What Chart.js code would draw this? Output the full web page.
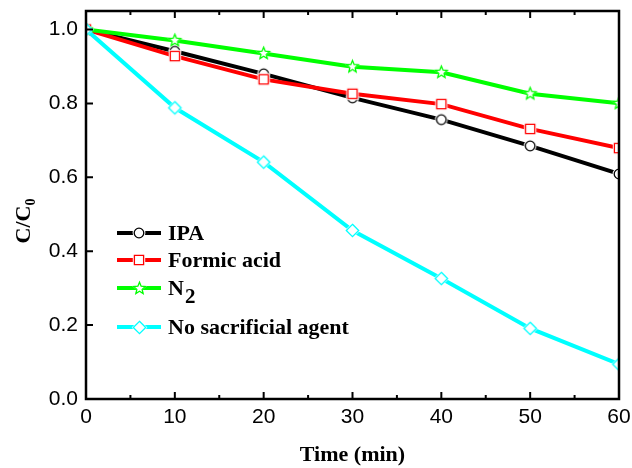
<!DOCTYPE html>
<html>
<head>
<meta charset="utf-8">
<script src="https://cdn.jsdelivr.net/npm/chart.js@4/dist/chart.umd.min.js"></script>
<style>
  html, body { margin: 0; padding: 0; background: #fff; }
  #wrap { width: 632px; height: 468px; }
</style>
</head>
<body>
<div id="wrap"><canvas id="c" width="632" height="468"></canvas></div>
<script>
// Degradation over time under different scavenger conditions
const time = [0, 10, 20, 30, 40, 50, 60];
const ipa = [1.0, 0.941, 0.880, 0.815, 0.756, 0.685, 0.609];
const formicAcid = [1.0, 0.928, 0.865, 0.826, 0.798, 0.731, 0.679];
const nitrogen = [1.0, 0.970, 0.935, 0.899, 0.884, 0.826, 0.800];
const noAgent = [1.0, 0.788, 0.641, 0.456, 0.326, 0.191, 0.094];

const seriesNames = ['IPA', 'Formic acid', 'N2', 'No sacrificial agent'];
const seriesColors = ['#000000', '#ff0000', '#00ff00', '#00ffff'];

// Hollow marker images with a thin white halo so the line breaks around them
function shapePath(g, shape, cx, cy, r) {
  g.beginPath();
  if (shape === 'circle') {
    g.arc(cx, cy, r, 0, Math.PI * 2);
  } else if (shape === 'square') {
    g.rect(cx - r, cy - r, 2 * r, 2 * r);
  } else if (shape === 'diamond') {
    g.moveTo(cx, cy - r); g.lineTo(cx + r, cy); g.lineTo(cx, cy + r); g.lineTo(cx - r, cy);
    g.closePath();
  } else if (shape === 'star') {
    const inner = r * 0.45;
    for (let i = 0; i < 10; i++) {
      const a = -Math.PI / 2 + i * Math.PI / 5;
      const rr = i % 2 === 0 ? r : inner;
      const px = cx + rr * Math.cos(a), py = cy + rr * Math.sin(a);
      if (i === 0) g.moveTo(px, py); else g.lineTo(px, py);
    }
    g.closePath();
  }
}
function makeMarker(shape, color, r) {
  const s = Math.ceil(2 * (r + 3));
  const c = document.createElement('canvas');
  c.width = s; c.height = s;
  const g = c.getContext('2d');
  const m = s / 2;
  shapePath(g, shape, m, m, r + 1.6);
  g.fillStyle = '#ffffff'; g.fill();
  shapePath(g, shape, m, m, r);
  g.fillStyle = '#ffffff'; g.fill();
  g.lineWidth = 1.3; g.strokeStyle = color; g.stroke();
  return c;
}
const markers = [
  makeMarker('circle', seriesColors[0], 4.8),
  makeMarker('square', seriesColors[1], 4.6),
  makeMarker('star', seriesColors[2], 6.2),
  makeMarker('diamond', seriesColors[3], 6.2)
];

const seriesValues = [ipa, formicAcid, nitrogen, noAgent];
const datasets = seriesValues.map((vals, i) => ({
  label: seriesNames[i],
  data: time.map((t, k) => ({ x: t, y: vals[k] })),
  borderColor: seriesColors[i],
  backgroundColor: seriesColors[i],
  borderWidth: 4,
  pointStyle: markers[i],
  pointRadius: 6,
  tension: 0,
  clip: 0,
  order: 3 - i
}));

const serif = '"Liberation Serif", "Times New Roman", serif';

// Frame, inward ticks, axis titles and legend
const decor = {
  id: 'decor',
  afterDatasetsDraw(chart) {
    const ctx = chart.ctx;
    const a = chart.chartArea;
    const xs = chart.scales.x, ys = chart.scales.y;
    ctx.save();
    ctx.strokeStyle = '#000';
    ctx.lineWidth = 2.5;
    ctx.strokeRect(a.left, a.top, a.right - a.left, a.bottom - a.top);

    ctx.lineWidth = 2;
    const xt = xs.ticks.map(t => t.value);
    ctx.beginPath();
    xt.forEach((v, k) => {
      const px = xs.getPixelForValue(v);
      ctx.moveTo(px, a.bottom); ctx.lineTo(px, a.bottom - 7);
      ctx.moveTo(px, a.top); ctx.lineTo(px, a.top + 7);
      if (k < xt.length - 1) {
        const pm = xs.getPixelForValue((v + xt[k + 1]) / 2);
        ctx.moveTo(pm, a.bottom); ctx.lineTo(pm, a.bottom - 4);
        ctx.moveTo(pm, a.top); ctx.lineTo(pm, a.top + 4);
      }
    });
    ys.ticks.forEach(t => {
      const py = ys.getPixelForValue(t.value);
      ctx.moveTo(a.left, py); ctx.lineTo(a.left + 7, py);
    });
    ctx.stroke();

    ctx.fillStyle = '#000';
    // x title
    ctx.font = 'bold 22px ' + serif;
    ctx.textAlign = 'center';
    ctx.textBaseline = 'middle';
    ctx.fillText('Time (min)', (a.left + a.right) / 2, 455);

    // y title with subscript
    ctx.save();
    ctx.translate(30, 221);
    ctx.rotate(-Math.PI / 2);
    ctx.textAlign = 'left';
    ctx.textBaseline = 'alphabetic';
    ctx.font = 'bold 22px ' + serif;
    const main = 'C/C';
    const w1 = ctx.measureText(main).width;
    ctx.font = 'bold 14px ' + serif;
    const w2 = ctx.measureText('0').width;
    const x0 = -(w1 + w2) / 2;
    ctx.font = 'bold 22px ' + serif;
    ctx.fillText(main, x0, 0);
    ctx.font = 'bold 14px ' + serif;
    ctx.fillText('0', x0 + w1, 5);
    ctx.restore();

    // legend
    const rows = [233, 260, 288, 327];
    chart.data.datasets.forEach((ds, i) => {
      const y = rows[i];
      ctx.strokeStyle = ds.borderColor;
      ctx.lineWidth = 4;
      ctx.beginPath();
      ctx.moveTo(117, y); ctx.lineTo(161, y);
      ctx.stroke();
      const img = ds.pointStyle;
      ctx.drawImage(img, Math.round(139 - img.width / 2), Math.round(y - img.height / 2));
      ctx.fillStyle = '#000';
      ctx.textAlign = 'left';
      ctx.textBaseline = 'alphabetic';
      ctx.font = 'bold 22px ' + serif;
      if (ds.label === 'N2') {
        ctx.fillText('N', 168, y + 7);
        const wn = ctx.measureText('N').width;
        ctx.font = 'bold 21px ' + serif;
        ctx.fillText('2', 168 + wn + 1, y + 15);
      } else {
        ctx.fillText(ds.label, 168, y + 7);
      }
    });
    ctx.restore();
  }
};

function noLabelPadding(s) {
  s.paddingTop = 0; s.paddingBottom = 0; s.paddingLeft = 0; s.paddingRight = 0;
}

new Chart(document.getElementById('c'), {
  type: 'line',
  data: { datasets },
  options: {
    responsive: false,
    animation: false,
    events: [],
    layout: { padding: { left: 0, top: 11, right: 13, bottom: 0 } },
    plugins: { legend: { display: false }, tooltip: { enabled: false } },
    scales: {
      x: {
        type: 'linear',
        min: 0, max: 60,
        grid: { display: false, drawTicks: false },
        border: { display: false },
        ticks: {
          stepSize: 10,
          padding: 6,
          color: '#000',
          font: { family: '"Liberation Sans", Arial, sans-serif', size: 21 }
        },
        afterFit(s) { s.height = 69; noLabelPadding(s); }
      },
      y: {
        min: 0, max: 1.05,
        grid: { display: false, drawTicks: false },
        border: { display: false },
        ticks: {
          stepSize: 0.2,
          includeBounds: false,
          padding: 8,
          color: '#000',
          font: { family: '"Liberation Sans", Arial, sans-serif', size: 21 },
          callback: v => Number(v).toFixed(1)
        },
        afterFit(s) { s.width = 86; noLabelPadding(s); }
      }
    }
  },
  plugins: [decor]
});
</script>
</body>
</html>
